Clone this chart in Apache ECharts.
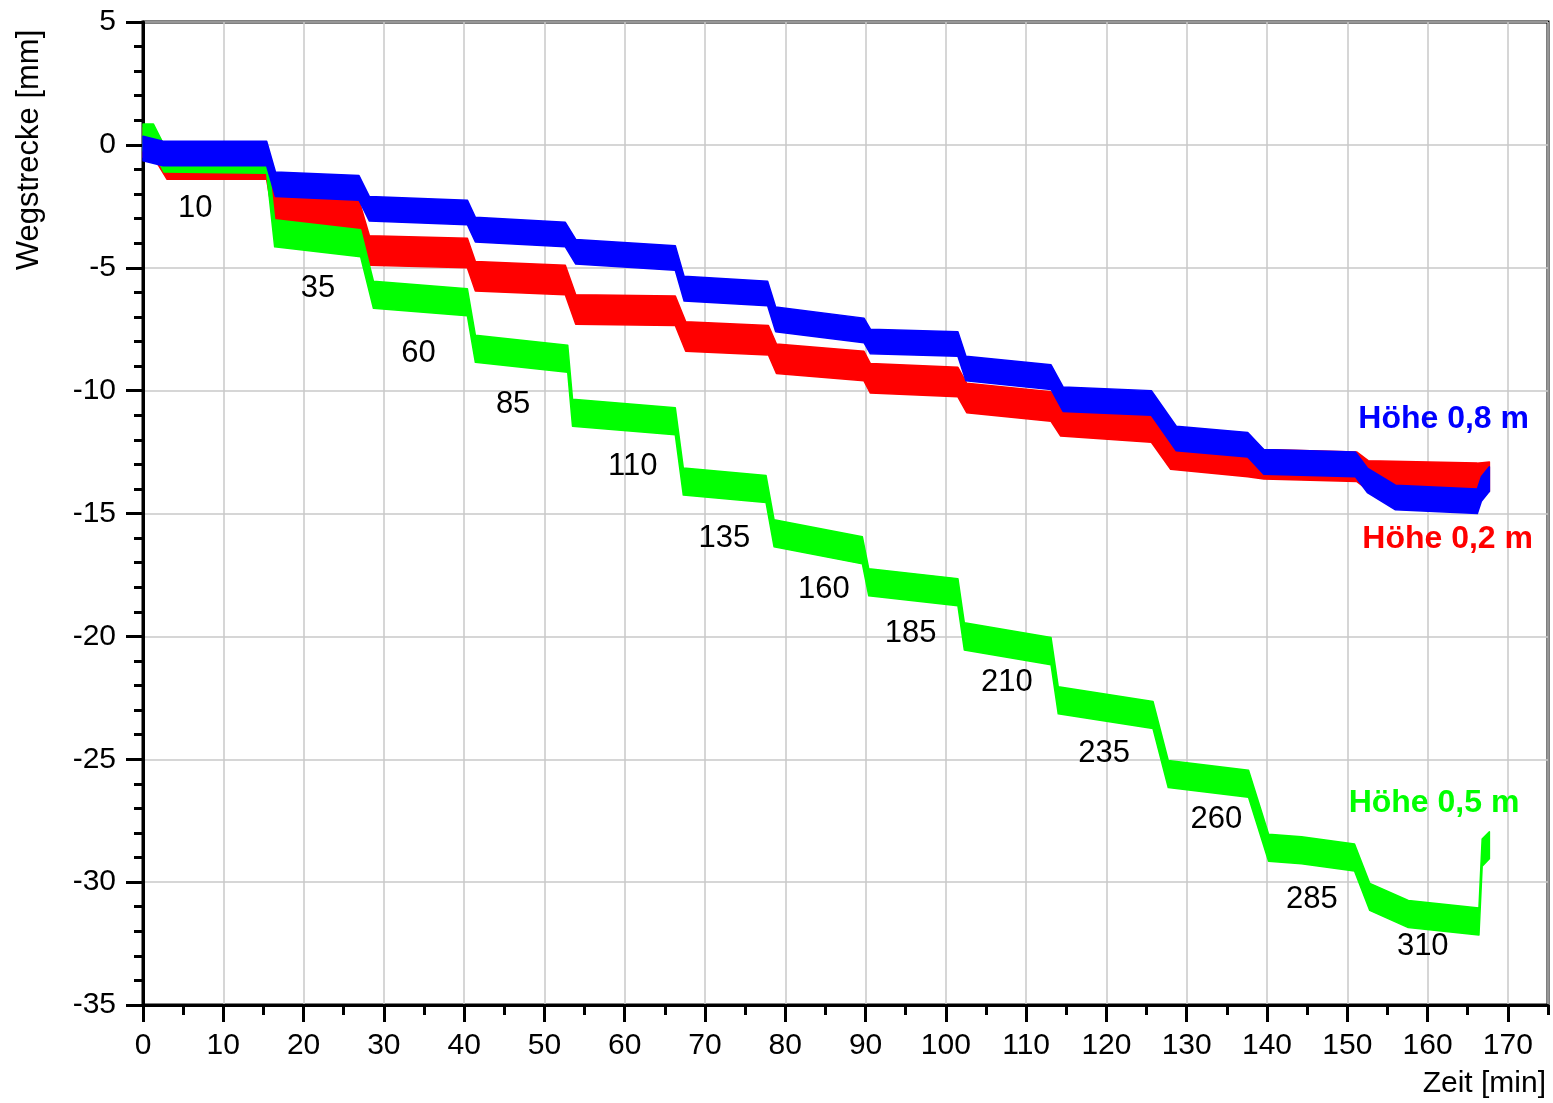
<!DOCTYPE html>
<html><head><meta charset="utf-8">
<script src="https://cdn.jsdelivr.net/npm/echarts@6/dist/echarts.min.js"></script>
<style>html,body{margin:0;padding:0;background:#fff}#c{width:1553px;height:1103px}</style>
</head><body><div id="c"></div>
<script>
const FONT = '"Liberation Sans", Arial, Helvetica, sans-serif';

// Höhe 0,5 m (green): time [min] and mean displacement [mm]
const tGreen = [0, 1.3, 2.6, 15.4, 16.4, 27.1, 28.7, 40.4, 41.4, 52.9, 53.5, 66.3, 67.3, 77.6, 78.6, 89.6, 90.4, 101.5, 102.3, 113.1, 114.0, 125.8, 127.7, 137.7, 140.2, 144.3, 150.9, 152.8, 157.6, 166.4, 166.8, 167.7];
const vGreen = [0.3, 0.3, -0.55, -0.6, -3.6, -4.0, -6.1, -6.4, -8.3, -8.7, -10.9, -11.25, -13.7, -14.0, -15.8, -16.5, -17.8, -18.2, -20.0, -20.6, -22.6, -23.2, -25.6, -26.0, -28.6, -28.7, -29.0, -30.6, -31.3, -31.6, -28.8, -28.5];
const noiseGreen = 0.55;

// Höhe 0,2 m (red)
const tRed = [0, 1.5, 3.0, 15.4, 16.4, 26.9, 28.2, 40.4, 41.4, 52.6, 53.9, 66.3, 67.6, 77.9, 78.9, 89.8, 90.6, 101.5, 102.6, 113.1, 114.3, 125.6, 128.0, 137.6, 139.6, 151.2, 152.6, 166.2, 167.7];
const vRed = [0.1, 0.0, -0.8, -0.8, -2.7, -2.85, -4.3, -4.4, -5.35, -5.5, -6.7, -6.75, -7.8, -7.95, -8.7, -9.0, -9.5, -9.65, -10.3, -10.65, -11.25, -11.5, -12.6, -12.9, -13.0, -13.1, -13.45, -13.55, -13.5];
const noiseRed = 0.6;

// Höhe 0,8 m (blue)
const tBlue = [0, 2.5, 15.4, 16.5, 26.9, 28.2, 40.4, 41.4, 52.6, 53.9, 66.3, 67.4, 77.8, 78.8, 89.8, 90.6, 101.5, 102.5, 113.1, 114.6, 125.6, 128.7, 137.6, 139.6, 151.0, 152.5, 156.0, 166.2, 166.7, 167.7];
const vBlue = [-0.15, -0.35, -0.35, -1.6, -1.75, -2.6, -2.75, -3.45, -3.65, -4.35, -4.6, -5.85, -6.05, -7.1, -7.55, -8.0, -8.1, -9.1, -9.45, -10.35, -10.5, -11.95, -12.2, -12.9, -13.0, -13.65, -14.35, -14.5, -14.0, -13.6];
const noiseBlue = 0.5;

// step annotations (load values) placed in data coordinates
const stepLabels = ['10', '35', '60', '85', '110', '135', '160', '185', '210', '235', '260', '285', '310'];
const stepLabelT = [6.5, 21.8, 34.3, 46.1, 61.0, 72.4, 84.8, 95.6, 107.6, 119.7, 133.7, 145.6, 159.4];
const stepLabelV = [-2.57, -5.86, -8.5, -10.55, -13.07, -16.0, -18.08, -19.9, -21.86, -24.76, -27.44, -30.7, -32.6];

// series name labels
const seriesNames = ['Höhe 0,8 m', 'Höhe 0,2 m', 'Höhe 0,5 m'];
const seriesColors = ['#0000ff', '#ff0000', '#00ff00'];
const seriesNameT = [162.0, 162.5, 160.8];
const seriesNameV = [-11.16, -16.04, -26.8];

const xTitle = 'Zeit [min]';
const yTitle = 'Wegstrecke [mm]';

function bandSeries(name, t, v, hw, color) {
  const data = t.map((x, i) => [x, v[i] - hw, v[i] + hw]);
  return {
    type: 'custom', name: name, data: data,
    encode: { x: 0, y: [1, 2] },
    silent: true, animation: false,
    renderItem: function (params, api) {
      if (params.dataIndex !== 0) return null;
      const pts = [];
      for (let i = 0; i < data.length; i++) pts.push(api.coord([data[i][0], data[i][2]]));
      for (let i = data.length - 1; i >= 0; i--) pts.push(api.coord([data[i][0], data[i][1]]));
      return { type: 'polygon', shape: { points: pts }, style: { fill: color, stroke: color, lineWidth: 1.5, lineJoin: 'round' } };
    }
  };
}

const chart = echarts.init(document.getElementById('c'), null, { renderer: 'canvas' });
chart.setOption({
  backgroundColor: '#ffffff',
  animation: false,
  grid: { left: 143, right: 5, top: 22, bottom: 98, show: true, borderColor: '#000', borderWidth: 3, backgroundColor: 'transparent' },
  xAxis: [
    {
      type: 'value', min: 0, max: 175, interval: 10, position: 'bottom',
      axisLine: { show: true, onZero: false, lineStyle: { color: '#000', width: 3 } },
      axisTick: { show: true, length: 17, lineStyle: { color: '#000', width: 3 } },
      axisLabel: { show: true, margin: 26, fontSize: 30, color: '#000', fontFamily: FONT, showMaxLabel: false,
        formatter: function (val) { return val % 10 === 0 ? String(val) : ''; } },
      splitLine: { show: true, lineStyle: { color: '#c8c8c8', width: 1.5 } }
    },
    {
      type: 'value', min: 0, max: 175, interval: 5, position: 'bottom',
      axisLine: { show: false, onZero: false },
      axisTick: { show: true, length: 10, lineStyle: { color: '#000', width: 3 } },
      axisLabel: { show: false },
      splitLine: { show: false }
    }
  ],
  yAxis: {
    type: 'value', min: -35, max: 5, interval: 5,
    axisLine: { show: true, onZero: false, lineStyle: { color: '#000', width: 3 } },
    axisTick: { show: true, length: 17, lineStyle: { color: '#000', width: 3 } },
    minorTick: { show: true, splitNumber: 5, length: 9, lineStyle: { color: '#000', width: 3 } },
    axisLabel: { show: true, margin: 27, fontSize: 30, color: '#000', fontFamily: FONT },
    splitLine: { show: true, lineStyle: { color: '#c8c8c8', width: 1.5 } },
    minorSplitLine: { show: false }
  },
  graphic: [
    { type: 'text', x: 29, y: 150, rotation: Math.PI / 2,
      style: { text: yTitle, font: '31px ' + FONT, fill: '#000', align: 'center', verticalAlign: 'middle', textAlign: 'center', textVerticalAlign: 'middle' } },
    { type: 'text', x: 1546, y: 1084,
      style: { text: xTitle, font: '30px ' + FONT, fill: '#000', align: 'right', verticalAlign: 'middle', textAlign: 'right', textVerticalAlign: 'middle' } }
  ],
  series: [
    bandSeries('Höhe 0,2 m', tRed, vRed, noiseRed, '#ff0000'),
    bandSeries('Höhe 0,5 m', tGreen, vGreen, noiseGreen, '#00ff00'),
    bandSeries('Höhe 0,8 m', tBlue, vBlue, noiseBlue, '#0000ff'),
    {
      type: 'scatter', silent: true, z: 10, symbolSize: 1, itemStyle: { color: 'transparent', opacity: 1 },
      data: stepLabels.map((s, i) => [stepLabelT[i], stepLabelV[i], s]),
      label: { show: true, position: 'inside', color: '#000', fontSize: 31, fontFamily: FONT,
        formatter: function (p) { return p.value[2]; } }
    },
    {
      type: 'scatter', silent: true, z: 10, symbolSize: 1, itemStyle: { color: 'transparent', opacity: 1 },
      data: seriesNames.map((s, i) => ({ value: [seriesNameT[i], seriesNameV[i], s],
        label: { color: seriesColors[i] } })),
      label: { show: true, position: 'inside', fontSize: 32, fontWeight: 'bold', fontFamily: FONT,
        formatter: function (p) { return p.value[2]; } }
    }
  ]
});
</script>
</body></html>
